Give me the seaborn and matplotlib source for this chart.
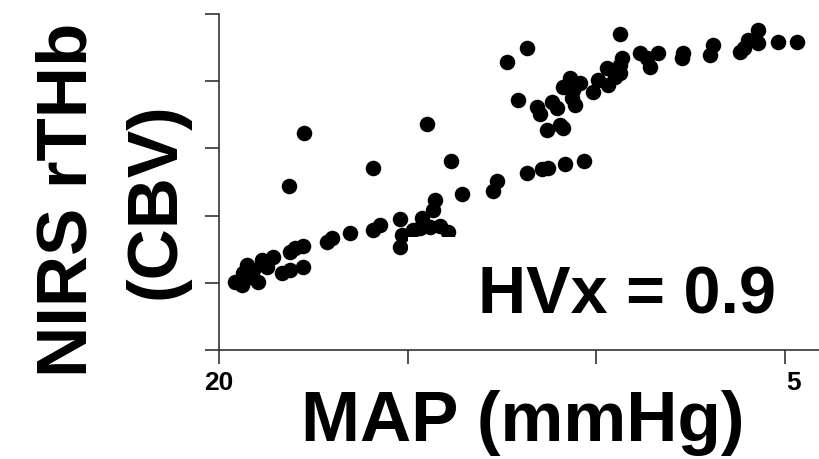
import matplotlib
matplotlib.use("Agg")
import matplotlib.pyplot as plt
import matplotlib.transforms as mtransforms
import seaborn as sns
import pandas as pd
from matplotlib.patches import Rectangle

# MAP (mmHg) values (axis runs 20 -> 5)
map_mmhg = [
    19.58, 19.36, 19.39, 19.18, 19.10, 18.97, 18.86, 18.73, 18.57, 18.33,
    18.12, 18.12, 17.98, 17.77, 17.77, 18.14, 17.75, 17.14, 17.00, 16.53,
    15.92, 15.73, 15.92, 19.26,
    15.20, 15.15, 15.20, 14.62, 14.85, 14.40, 14.67, 14.32, 14.27, 13.93, 14.14,
    14.48, 13.85, 13.55, 12.73, 12.63, 11.83, 11.43, 11.27, 10.82, 10.32,
    12.36, 11.83, 9.36, 12.07, 11.56, 11.49, 11.17, 11.03, 11.30, 10.95,
    10.88, 10.88, 10.69, 10.61, 10.42, 10.64, 10.56, 10.08, 9.95, 9.71,
    9.68, 9.50, 9.36, 9.31, 9.36, 8.83, 8.65, 8.57, 8.36, 7.69,
    7.72, 6.98, 6.90, 6.18, 5.97, 5.70, 5.70, 5.17, 4.67, 6.07,
]
# NIRS rTHb (CBV), relative units (one unit per y tick)
rthb = [
    1.01, 1.15, 0.97, 1.09, 1.19, 1.01, 1.34, 1.24, 1.38, 1.15,
    1.19, 1.46, 1.52, 1.55, 1.24, 2.44, 3.23, 1.61, 1.67, 1.74,
    1.79, 1.86, 2.71, 1.26,
    1.95, 1.71, 1.53, 1.96, 1.79, 1.83, 1.82, 2.08, 2.23, 1.76, 1.85,
    3.36, 2.81, 2.32, 2.37, 2.51, 2.63, 2.69, 2.71, 2.77, 2.81,
    4.29, 4.49, 4.70, 3.72, 3.62, 3.51, 3.69, 3.60, 3.27, 3.35,
    3.30, 3.91, 4.05, 3.87, 3.97, 3.75, 3.65, 3.84, 4.02, 4.20,
    3.94, 4.06, 4.12, 4.35, 4.24, 4.42, 4.35, 4.21, 4.42, 4.42,
    4.35, 4.39, 4.54, 4.43, 4.61, 4.76, 4.57, 4.58, 4.58, 4.49,
]

x_ticks = [20, 15, 10, 5]
x_tick_labels = ["20", "", "", "5"]
y_ticks = [0, 1, 2, 3, 4, 5]

df = pd.DataFrame({"MAP": map_mmhg, "rTHb": rthb})

sns.set_style("ticks")
plt.rcParams["font.family"] = ["Liberation Sans", "DejaVu Sans"]
plt.rcParams["text.color"] = "black"
plt.rcParams["xtick.labelcolor"] = "black"

fig = plt.figure(figsize=(8.2, 4.59), dpi=100)
ax = fig.add_axes([219 / 820, 109 / 459, 601 / 820, 336 / 459])

sns.scatterplot(data=df, x="MAP", y="rTHb", ax=ax, color="black",
                s=125, linewidth=0, legend=False, zorder=3)

ax.set_xlim(20, 4.06)
ax.set_ylim(0, 5)
ax.set_xticks(x_ticks)
ax.set_xticklabels(x_tick_labels, fontsize=19, fontweight="bold", color="black")
ax.set_yticks(y_ticks)
ax.set_yticklabels([])
ax.tick_params(axis="both", length=10, width=1.2, color="#333333", pad=5)
# the "5" label sits a little to the right of its tick in the reference
lab5 = ax.get_xticklabels()[3]
lab5.set_transform(lab5.get_transform() +
                   mtransforms.ScaledTranslation(9 / 100, 0, fig.dpi_scale_trans))
for side in ["top", "right"]:
    ax.spines[side].set_visible(False)
for side in ["left", "bottom"]:
    ax.spines[side].set_linewidth(1.2)
    ax.spines[side].set_color("#333333")
ax.set_xlabel("")
ax.set_ylabel("")

# white box behind the annotation (hides some points, as in the reference)
ax.add_patch(Rectangle((14.99, 0.05), -12, 1.63, facecolor="white",
                       edgecolor="none", zorder=4))

fig.text(627 / 820, 1 - 313 / 459, "HVx = 0.9", ha="center", va="baseline",
         fontsize=48, fontweight="bold", color="black", zorder=5)
fig.text(523 / 820, 1 - 441 / 459, "MAP (mmHg)", ha="center", va="baseline",
         fontsize=51, fontweight="bold", color="black")
fig.text(87 / 820, 1 - 200 / 459, "NIRS rTHb", ha="center", va="baseline",
         rotation=90, rotation_mode="anchor", fontsize=51, fontweight="bold",
         color="black")
fig.text(175 / 820, 1 - 201 / 459, "(CBV)", ha="center", va="baseline",
         rotation=90, rotation_mode="anchor", fontsize=51, fontweight="bold",
         color="black")

fig.savefig("out.png", dpi=100)
